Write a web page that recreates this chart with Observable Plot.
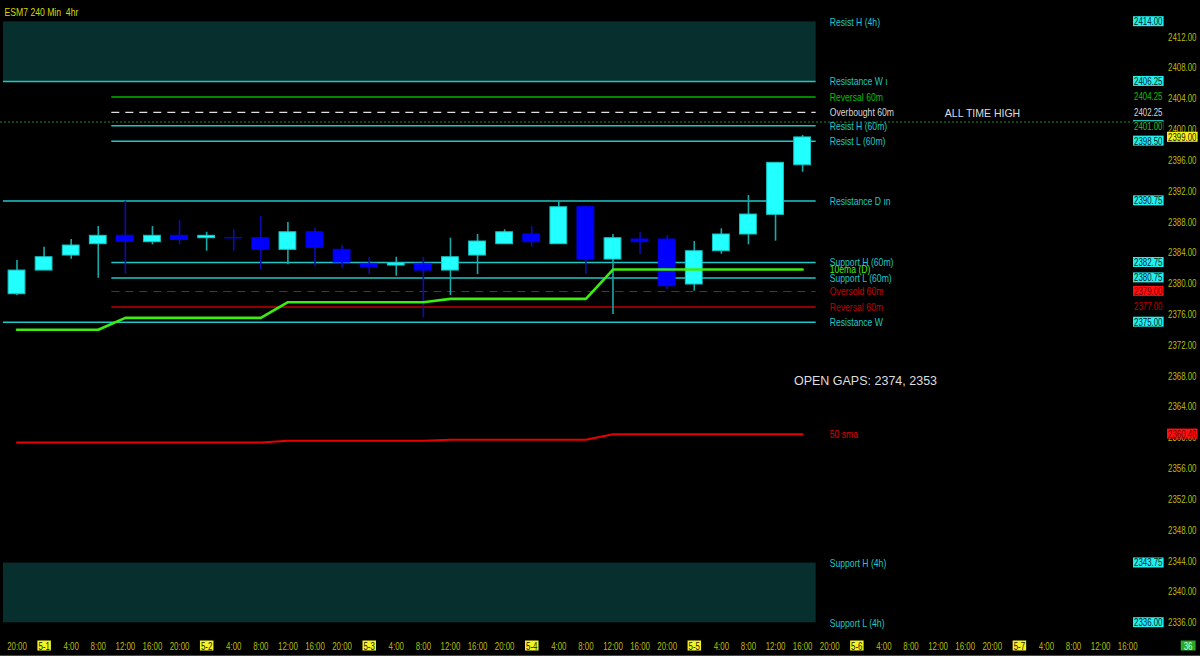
<!DOCTYPE html>
<html><head><meta charset="utf-8">
<script src="https://cdn.jsdelivr.net/npm/d3@7"></script>
<script src="https://cdn.jsdelivr.net/npm/@observablehq/plot@0.6"></script>
<style>html,body{margin:0;padding:0;background:#000;overflow:hidden}svg{display:block}</style>
</head><body><div id="chart"></div>
<script>
// ---------- DATA ----------
const chartTitle = "ESM7 240 Min  4hr";
const timeLabels = ["20:00","5-1","4:00","8:00","12:00","16:00","20:00","5-2","4:00","8:00","12:00","16:00","20:00","5-3","4:00","8:00","12:00","16:00","20:00","5-4","4:00","8:00","12:00","16:00","20:00","5-5","4:00","8:00","12:00","16:00","20:00","5-6","4:00","8:00","12:00","16:00","20:00","5-7","4:00","8:00","12:00","16:00"];
const opens  = [2378.65,2381.72,2383.67,2385.14,2386.23,2385.40,2386.23,2385.92,2385.95,2385.92,2384.41,2386.69,2384.41,2382.59,2382.37,2382.59,2381.72,2383.67,2385.14,2386.40,2385.14,2389.94,2383.15,2385.75,2385.75,2379.91,2384.23,2386.40,2388.95,2395.39];
const highs  = [2383.03,2384.75,2385.75,2387.43,2390.72,2387.43,2388.21,2386.69,2387.01,2388.73,2387.95,2387.21,2384.97,2383.45,2383.45,2383.45,2385.92,2386.40,2387.01,2387.43,2390.72,2390.10,2386.40,2386.69,2386.23,2385.49,2387.14,2391.46,2395.70,2399.25];
const lows   = [2378.48,2381.72,2383.19,2380.72,2381.20,2385.06,2385.06,2384.23,2384.23,2381.81,2382.46,2382.24,2382.02,2381.20,2380.98,2375.58,2378.48,2381.20,2385.14,2384.75,2385.14,2381.20,2376.01,2383.80,2379.26,2379.04,2383.84,2385.06,2385.53,2394.48];
const closes = [2381.72,2383.45,2384.97,2386.23,2385.45,2386.23,2385.70,2386.23,2385.90,2384.41,2386.69,2384.67,2382.76,2382.15,2382.67,2381.72,2383.45,2385.49,2386.69,2385.40,2389.94,2383.15,2385.92,2385.40,2379.69,2384.23,2386.40,2388.99,2395.70,2399.00];
const ema10D = [2374.03,2374.03,2374.03,2374.03,2375.58,2375.58,2375.58,2375.58,2375.58,2375.58,2377.61,2377.61,2377.61,2377.61,2377.61,2377.61,2378.05,2378.05,2378.05,2378.05,2378.05,2378.05,2381.85,2381.85,2381.85,2381.85,2381.85,2381.85,2381.85,2381.85];
const sma50  = [2359.40,2359.40,2359.40,2359.40,2359.40,2359.40,2359.40,2359.40,2359.40,2359.40,2359.62,2359.62,2359.62,2359.62,2359.62,2359.62,2359.75,2359.75,2359.75,2359.75,2359.75,2359.75,2360.48,2360.48,2360.48,2360.48,2360.48,2360.48,2360.48,2360.48];
const yTicks = [2336,2340,2344,2348,2352,2356,2360,2364,2368,2372,2376,2380,2384,2388,2392,2396,2400,2404,2408,2412];
const levelNames  = ["Resist H (4h)","Resistance W ı","Reversal 60m","Overbought 60m","Resist H (60m)","Resist L (60m)","Resistance D ın","Support H (60m)","Support L (60m)","Oversold 60m","Reversal 60m","Resistance W","Support H (4h)","Support L (4h)"];
const levelValues = [2414.00,2406.25,2404.25,2402.25,2400.50,2398.50,2390.75,2382.75,2380.75,2379.00,2377.00,2375.00,2343.75,2336.00];
const levelTags   = ["2414.00","2406.25","2404.25","2402.25","2400.50","2398.50","2390.75","2382.75","2380.75","2379.00","2377.00","2375.00","2343.75","2336.00"];
const levelFrames = ["4h","W","60m","60m","60m","60m","D","60m","60m","60m","60m","W","4h","4h"];
const levelRoles  = ["zone","resistance","reversal-high","overbought","resistance","resistance","resistance","support","support","oversold","reversal-low","resistance","zone","zone"];
const zoneHighs = [2414.00, 2343.75];
const zoneLows  = [2406.25, 2336.00];
const allTimeHigh = 2401.00;
const allTimeHighTag = "2401.00";
const emaName = "10ema (D)";
const smaName = "50 sma";
const smaTag = "2360.48";
const lastCloseTag = "2399.00";
const barCountTag = "36";
const annotations = [
  {text: "ALL TIME HIGH", x: 35.64, y: 2402.15},
  {text: "OPEN GAPS: 2374, 2353", x: 31.32, y: 2367.45}
];

// ---------- BUILD ----------
const candles = opens.map((o, i) => ({i, open: o, high: highs[i], low: lows[i], close: closes[i], up: closes[i] >= o}));
const n = candles.length;
const firstEdge = -0.5, lastEdge = n - 0.5;
const start60m = 3.5;
const levels = levelNames.map((name, k) => ({
  name, value: levelValues[k], tag: levelTags[k], frame: levelFrames[k], role: levelRoles[k],
  x1: levelFrames[k] === "60m" ? start60m : firstEdge, x2: lastEdge
}));
const zones = zoneHighs.map((h, k) => ({high: h, low: zoneLows[k]}));
const emaData = ema10D.map((v, i) => ({i, v}));
const smaData = sma50.map((v, i) => ({i, v}));
const timeData = timeLabels.map((t, i) => ({i, t, date: t.includes("-")}));

const CYAN = "#1ec8c8";
const lineColor = {resistance: CYAN, support: CYAN, zone: CYAN, "reversal-high": "#00b400", overbought: "#e0e0e0", oversold: "#c80000", "reversal-low": "#c00000"};
const labelColor = {resistance: CYAN, support: CYAN, zone: CYAN, "reversal-high": "#00c000", overbought: "#d8d8d8", oversold: "#d40000", "reversal-low": "#c00000"};
const dashed = r => r === "overbought" || r === "oversold";
const F = "Liberation Sans, Arial, sans-serif";

const solidLevels = levels.filter(d => d.role !== "zone" && !dashed(d.role));
const dashLevels = levels.filter(d => dashed(d.role));
const cyanTags = levels.filter(d => ["resistance","support","zone"].includes(d.role));
const plainTags = levels.filter(d => ["reversal-high","overbought","reversal-low"].includes(d.role));
const redTags = levels.filter(d => d.role === "oversold");

// marker text colours (used to find texts that get a background box)
const T_CYAN = "#042424", T_RED = "#700000", T_ATH = "#22c022", T_YEL = "#202000", T_GRN = "#d0ffd0", T_ANN = "#dedede";
const tagDx = -38;
const LS = 11.5, TS = 10.5;

const chart = Plot.plot({
  width: 1200, height: 656,
  marginTop: 0, marginBottom: 0, marginLeft: 0, marginRight: 0,
  style: {background: "#000", overflow: "visible"},
  x: {type: "linear", domain: [-0.609, 43.687], axis: null},
  y: {type: "linear", domain: [2331.63, 2416.77], axis: null},
  marks: [
    Plot.rect(zones, {x1: firstEdge, x2: lastEdge, y1: "low", y2: "high", fill: "#062f2d"}),
    Plot.ruleY(solidLevels, {y: "value", x1: "x1", x2: "x2", stroke: d => lineColor[d.role], strokeWidth: 1.5}),
    Plot.ruleY(dashLevels, {y: "value", x1: "x1", x2: "x2", stroke: d => lineColor[d.role], strokeWidth: 1.2, strokeDasharray: "8,6"}),
    Plot.ruleY([allTimeHigh], {x1: -0.609, x2: 41.2, stroke: "#1f8a1f", strokeWidth: 1, strokeDasharray: "2,2"}),
    Plot.ruleX(candles, {x: "i", y1: "low", y2: "high", stroke: d => d.up ? "#1aa8a8" : "#0c0cb4", strokeWidth: 1.6}),
    Plot.rect(candles, {x1: d => d.i - 0.31, x2: d => d.i + 0.31, y1: "open", y2: "close",
      fill: d => d.up ? "#22ffff" : "#0000ff", stroke: d => d.up ? "#16c4c4" : "#0000ff", strokeWidth: 1}),
    Plot.line(smaData, {x: "i", y: "v", stroke: "#e80000", strokeWidth: 2}),
    Plot.line(emaData, {x: "i", y: "v", stroke: "#3cee10", strokeWidth: 2.6}),
    // level names
    Plot.text(levels, {x: n, y: "value", text: "name", textAnchor: "start", fill: d => labelColor[d.role], fontSize: LS, fontFamily: F}),
    Plot.text([emaData[n - 1]], {x: n, y: "v", text: [emaName], textAnchor: "start", fill: "#44ee11", fontSize: LS, fontFamily: F}),
    Plot.text([smaData[n - 1]], {x: n, y: "v", text: [smaName], textAnchor: "start", fill: "#e00000", fontSize: LS, fontFamily: F}),
    Plot.text(annotations, {x: "x", y: "y", text: "text", fill: T_ANN, fontSize: d => d.text.length > 15 ? 12.5 : 10.5, fontFamily: F}),
    // y ticks
    Plot.text(yTicks, {y: d => d, text: d => d.toFixed(2), frameAnchor: "right", dx: -4, textAnchor: "end", fill: "#bcbc00", fontSize: TS, fontFamily: F}),
    // price tags
    Plot.text(cyanTags, {y: "value", text: "tag", frameAnchor: "right", dx: tagDx, textAnchor: "end", fill: T_CYAN, fontSize: TS, fontFamily: F}),
    Plot.text(plainTags, {y: "value", text: "tag", frameAnchor: "right", dx: tagDx, textAnchor: "end", fill: d => labelColor[d.role], fontSize: TS, fontFamily: F}),
    Plot.text(redTags, {y: "value", text: "tag", frameAnchor: "right", dx: tagDx, textAnchor: "end", fill: T_RED, fontSize: TS, fontFamily: F}),
    Plot.text([allTimeHigh], {y: d => d, text: [allTimeHighTag], frameAnchor: "right", dx: tagDx, dy: 5, textAnchor: "end", fill: T_ATH, fontSize: TS, fontFamily: F}),
    Plot.text([closes[n - 1]], {y: d => d, text: [lastCloseTag], frameAnchor: "right", dx: -4, textAnchor: "end", fill: T_YEL, fontSize: TS, fontFamily: F}),
    Plot.text([sma50[n - 1]], {y: d => d, text: [smaTag], frameAnchor: "right", dx: -4, textAnchor: "end", fill: T_RED, fontSize: TS, fontFamily: F}),
    // time axis
    Plot.text(timeData.filter(d => !d.date), {x: "i", text: "t", frameAnchor: "bottom", dy: -7, fill: "#bcbc00", fontSize: TS, fontFamily: F}),
    Plot.text(timeData.filter(d => d.date), {x: "i", text: "t", frameAnchor: "bottom", dy: -7, fill: T_YEL, fontSize: TS, fontFamily: F}),
    Plot.text([barCountTag], {text: d => d, frameAnchor: "bottom-right", dx: -8, dy: -7, fill: T_GRN, fontSize: TS, fontFamily: F}),
    Plot.text([chartTitle], {text: d => d, frameAnchor: "top-left", dx: 4, dy: 7, textAnchor: "start", fill: "#d8d800", fontSize: LS, fontFamily: F}),
    Plot.ruleY([2331.63], {stroke: "#8a8a8a", strokeWidth: 1, dy: -0.5})
  ]
});
document.getElementById("chart").append(chart);

const rgb = c => d3.color(c).formatRgb();
const boxFill = new Map([
  [rgb(T_CYAN), "#22f0f0"], [rgb(T_RED), "#ff1010"], [rgb(T_ATH), "#000000"],
  [rgb(T_YEL), "#f4f420"], [rgb(T_GRN), "#2aa82a"]
]);
const texts = Array.from(chart.querySelectorAll("text"));
texts.forEach(t => {
  const fill = getComputedStyle(t).fill;
  if (fill === rgb(T_ANN)) return;
  // narrow the glyphs to mimic the condensed platform font
  const w = t.getComputedTextLength();
  if (w > 0) {
    t.setAttribute("textLength", (w * 0.75).toFixed(2));
    t.setAttribute("lengthAdjust", "spacingAndGlyphs");
  }
});
texts.forEach(t => {
  const fill = getComputedStyle(t).fill;
  if (!boxFill.has(fill)) return;
  const b = t.getBBox();
  const padX = fill === rgb(T_GRN) ? 3 : 1;
  const r = document.createElementNS("http://www.w3.org/2000/svg", "rect");
  r.setAttribute("x", b.x - padX);
  r.setAttribute("y", b.y + 1);
  r.setAttribute("width", b.width + 2 * padX);
  r.setAttribute("height", b.height - 2);
  r.setAttribute("fill", boxFill.get(fill));
  const tr = t.getAttribute("transform");
  if (tr) r.setAttribute("transform", tr);
  t.parentNode.insertBefore(r, t);
});
</script>
</body></html>
